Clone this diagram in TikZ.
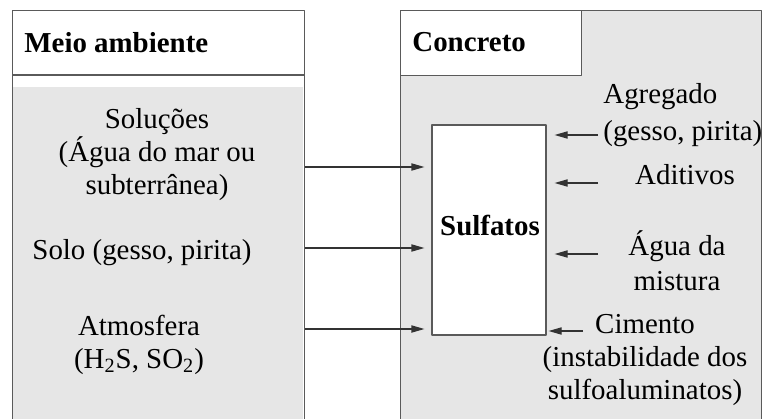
\documentclass[tikz,border=0pt]{standalone}
\usepackage{fontspec}
\setmainfont{Liberation Serif}
\usepackage{tikz}
\usetikzlibrary{arrows.meta}
\definecolor{frame}{HTML}{5A5A5A}
\definecolor{bggray}{HTML}{E6E6E6}
\tikzset{
  every picture/.style={line join=round, >={Triangle[length=6.5pt,width=3.6pt]}},
  txt/.style={inner sep=0pt, font=\fontsize{14.45}{16.5}\selectfont},
  head/.style={txt, font=\fontsize{14.45}{16.5}\selectfont\bfseries},
  box/.style={draw=frame, line width=0.6pt},
  feed/.style={->, line width=0.6pt, black!80},
}

\begin{document}
\begin{tikzpicture}[x=0.5pt,y=0.5pt]
\clip (0,0) rectangle (763,418);
% meio ambiente
\node[box, minimum width=146pt, minimum height=206.5pt, anchor=north west, inner sep=0pt] (amb) at (12,408) {};
\fill[bggray] (12.6,331) rectangle (303.4,-5);
\draw[box] (12,343)--(304,343);
\node[head, anchor=west] (ambt) at (24,375) {Meio ambiente};
% concreto
\node[box, fill=bggray, minimum width=180.5pt, minimum height=206.5pt, anchor=north west, inner sep=0pt] (conc) at (400,408) {};
\node[box, fill=white, minimum width=90.5pt, minimum height=32.5pt, anchor=north west, inner sep=0pt] (conct) at (400,408) {};
\node[head, anchor=west] at (412,376) {Concreto};
% sulfatos
\node[box, fill=white, minimum width=57pt, minimum height=105pt, inner sep=0pt] (sulf) at (489,188) {};
\node[head] (sulft) at (490,193) {Sulfatos};
% fontes externas
\node[txt, align=center] (sol) at (157,263) {Soluções\\(Água do mar ou\\subterrânea)};
\node[txt] (solo) at (142,165) {Solo (gesso, pirita)};
\node[txt, align=center] (atm) at (139,73) {Atmosfera\\(H\textsubscript{2}S, SO\textsubscript{2})};
\foreach \y in {251,170,89}{
  \draw[feed, shorten >=3.5pt] (amb.east |- 0,\y) -- (sulf.west |- 0,\y);
}
% fontes internas
\node[txt, align=left, anchor=west] (agr) at (603,303) {Agregado\\[2pt](gesso, pirita)};
\node[txt] (adit) at (685,243) {Aditivos};
\node[txt, align=center] (agua) at (677,157) {Água da\\[1pt]mistura};
\node[txt, align=center] (cim) at (645,58) {Cimento\\(instabilidade dos\\sulfoaluminatos)};
\coordinate (t1) at (598,283);
\coordinate (t2) at (598,235);
\coordinate (t3) at (598,164);
\coordinate (t4) at (583,87);
\foreach \t in {t1,t2,t3}{
  \draw[feed, shorten >=4pt] (\t) -- (sulf.east |- \t);
}
\draw[feed, shorten >=1pt] (t4) -- (sulf.east |- t4);
\end{tikzpicture}
\end{document}
